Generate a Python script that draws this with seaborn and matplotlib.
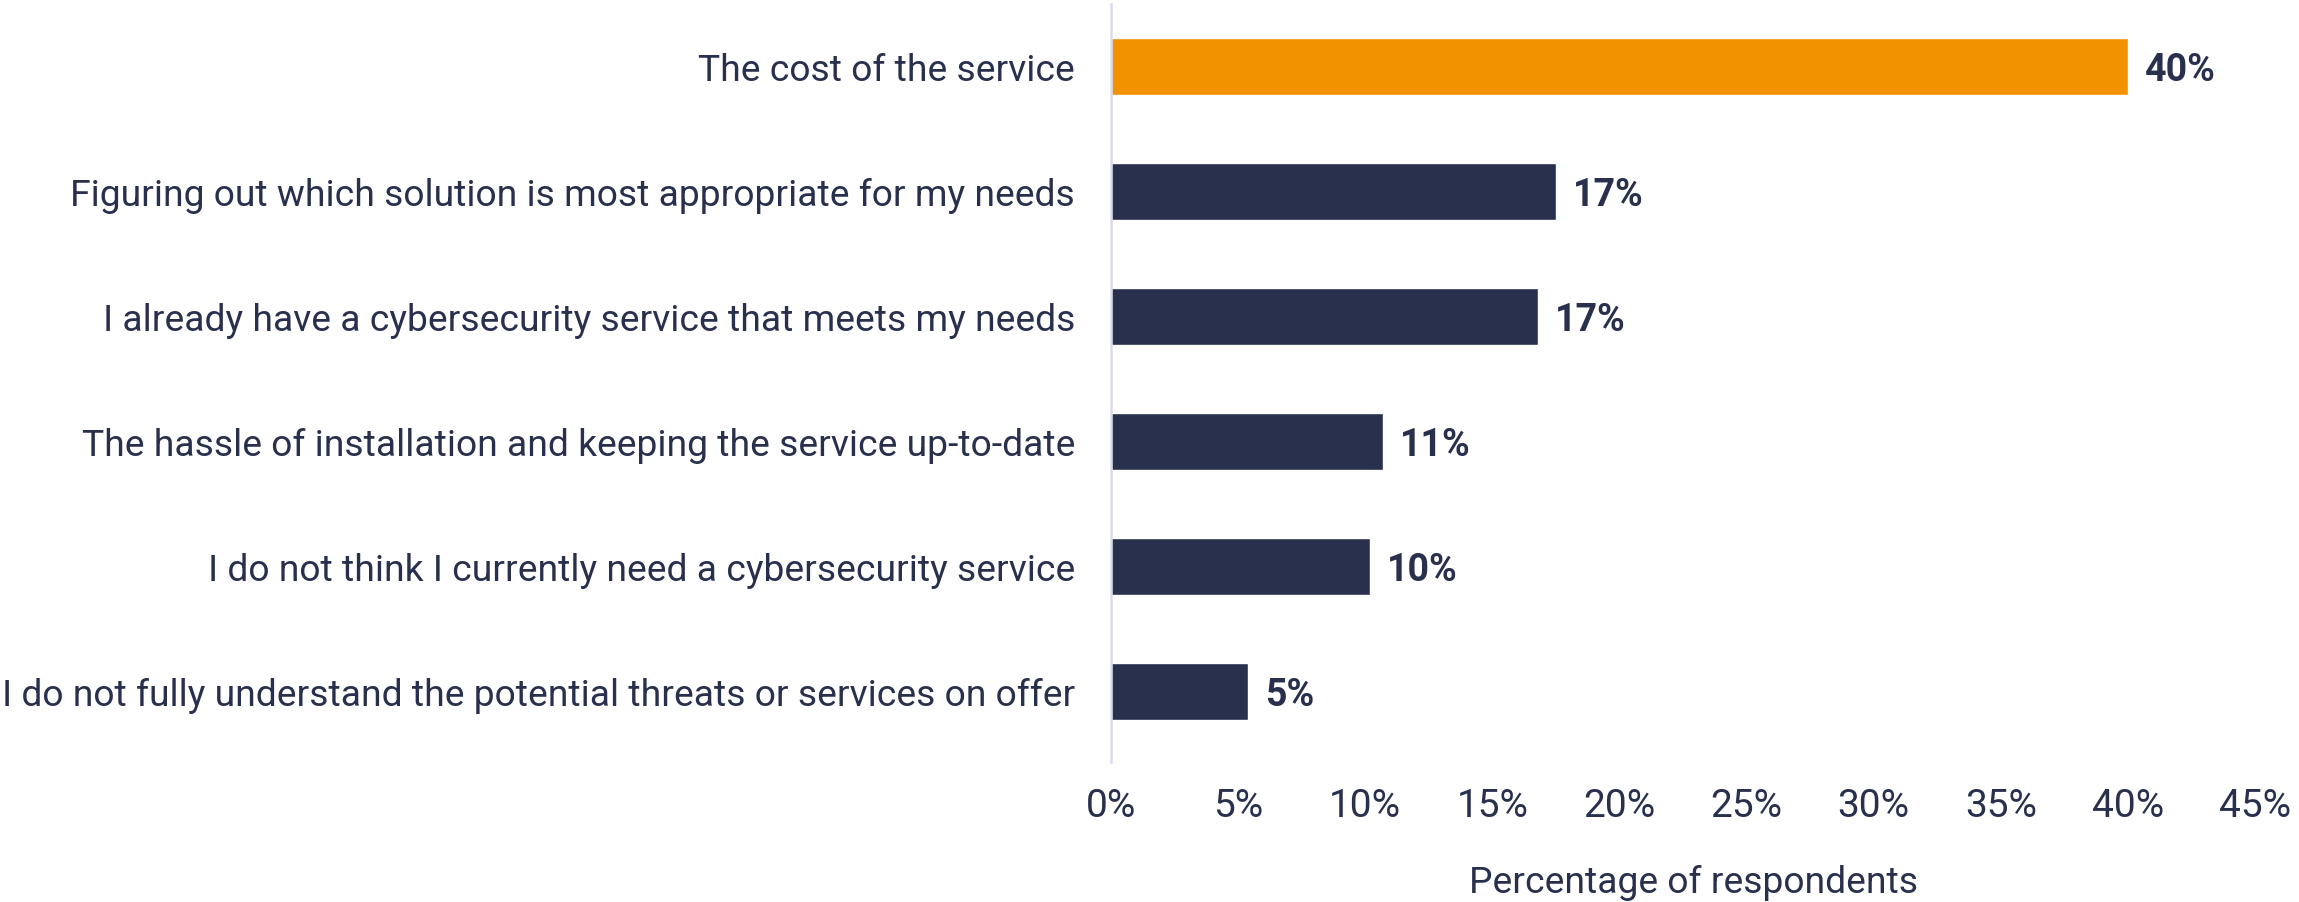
import matplotlib
matplotlib.use("Agg")
import matplotlib.pyplot as plt
import seaborn as sns
import pandas as pd

categories = [
    "The cost of the service",
    "Figuring out which solution is most appropriate for my needs",
    "I already have a cybersecurity service that meets my needs",
    "The hassle of installation and keeping the service up-to-date",
    "I do not think I currently need a cybersecurity service",
    "I do not fully understand the potential threats or services on offer",
]
values = [40.0, 17.5, 16.8, 10.7, 10.2, 5.4]
value_labels = ["40%", "17%", "17%", "11%", "10%", "5%"]
x_ticks = [0, 5, 10, 15, 20, 25, 30, 35, 40, 45]
x_tick_labels = ["0%", "5%", "10%", "15%", "20%", "25%", "30%", "35%", "40%", "45%"]
x_label = "Percentage of respondents"

NAVY = "#29304D"
ORANGE = "#F39200"
colors = [ORANGE] + [NAVY] * (len(categories) - 1)

sns.set_theme(style="white")
plt.rcParams["font.family"] = ["Roboto", "DejaVu Sans"]

df = pd.DataFrame({"category": categories, "value": values})

fig = plt.figure(figsize=(22.99, 9.02), dpi=100)
ax = fig.add_axes([1111 / 2299, 1 - 762 / 902, (2255 - 1111) / 2299, (762 - 4) / 902])

sns.barplot(data=df, x="value", y="category", hue="category", palette=colors,
            legend=False, width=0.456, ax=ax, saturation=1)

ax.set_xlim(0, 45)
ax.set_ylim(5.56, -0.5)

for i, (v, lab) in enumerate(zip(values, value_labels)):
    ax.annotate(lab, xy=(v, i), xytext=(12, 0), textcoords="offset points",
                va="center_baseline", ha="left", fontsize=27, fontweight="bold", color=NAVY)

ax.set_xticks(x_ticks)
ax.set_xticklabels(x_tick_labels)
ax.tick_params(axis="x", length=0, pad=19, labelsize=28, labelcolor=NAVY)
ax.tick_params(axis="y", length=0, pad=26, labelsize=26.85, labelcolor=NAVY)
ax.set_ylabel("")
ax.set_xlabel(x_label, fontsize=26.85, color=NAVY)
ax.xaxis.set_label_coords(0.509, -0.136)

for s in ["top", "right", "bottom"]:
    ax.spines[s].set_visible(False)
ax.spines["left"].set_color("#D9DCEA")
ax.spines["left"].set_linewidth(1.8)

fig.savefig("out.png", dpi=100, facecolor="white")
